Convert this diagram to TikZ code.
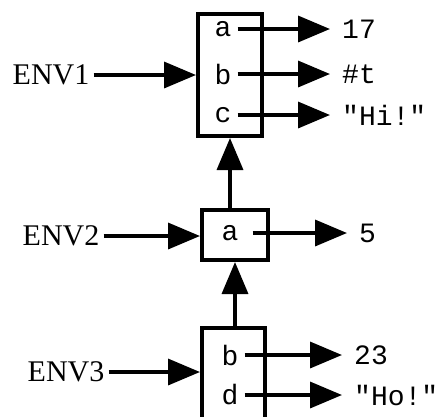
\documentclass[tikz,border=0pt]{standalone}
\usepackage{fontspec}
\setmainfont{Liberation Serif}
\setmonofont{Liberation Mono}
\usetikzlibrary{arrows.meta}
\begin{document}
\begin{tikzpicture}[x=1pt, y=-1pt,
    frame/.style={draw, rectangle, line width=4pt, inner sep=0pt},
    slot/.style={font=\fontsize{28}{34}\selectfont\ttfamily, inner xsep=6pt, inner ysep=0pt},
    val/.style={font=\fontsize{28}{34}\selectfont\ttfamily, anchor=west, inner xsep=12pt, inner ysep=0pt},
    env/.style={font=\fontsize{30}{36}\selectfont, inner sep=4pt},
    link/.style={-{Triangle[length=32pt, width=26pt]}, line width=3.5pt}]
    \useasboundingbox (0,0) rectangle (441,416);

    \node[frame, minimum width=64pt, minimum height=122pt] (box1) at (230,75) {};
    \node[frame, minimum width=66pt, minimum height=50pt] (box2) at (235,235) {};
    \node[frame, minimum width=63pt, minimum height=102pt] (box3) at (233.5,379) {};

    \node[env] (env1) at (51,75) {ENV1};
    \node[env] (env2) at (61,236) {ENV2};
    \node[env] (env3) at (66,372) {ENV3};

    \node[slot] (a1) at (223,29) {a};
    \node[slot] (b1) at (223,74) {b};
    \node[slot] (c1) at (223,115) {c};
    \node[slot] (a2) at (230,233) {a};
    \node[slot] (b3) at (230,355) {b};
    \node[slot] (d3) at (230,395) {d};

    \node[val] (v17) at (330,29) {17};
    \node[val] (vt) at (330,74) {\#t};
    \node[val] (vhi) at (330,115) {"Hi!"};
    \node[val] (v5) at (347,233) {5};
    \node[val] (v23) at (342,355) {23};
    \node[val] (vho) at (342,395) {"Ho!"};

    \draw[link] (a1) -- (v17);
    \draw[link] (b1) -- (vt);
    \draw[link] (c1) -- (vhi);
    \draw[link, shorten <=8pt] (a2) -- (v5);
    \draw[link] (b3) -- (v23);
    \draw[link] (d3) -- (vho);

    \draw[link] (env1) -- (env1 -| box1.west);
    \draw[link] (env2) -- (env2 -| box2.west);
    \draw[link] (env3) -- (env3 -| box3.west);

    \draw[link] (box1.south |- box2.north) -- (box1.south);
    \draw[link] (box2.south |- box3.north) -- (box2.south);
\end{tikzpicture}
\end{document}
